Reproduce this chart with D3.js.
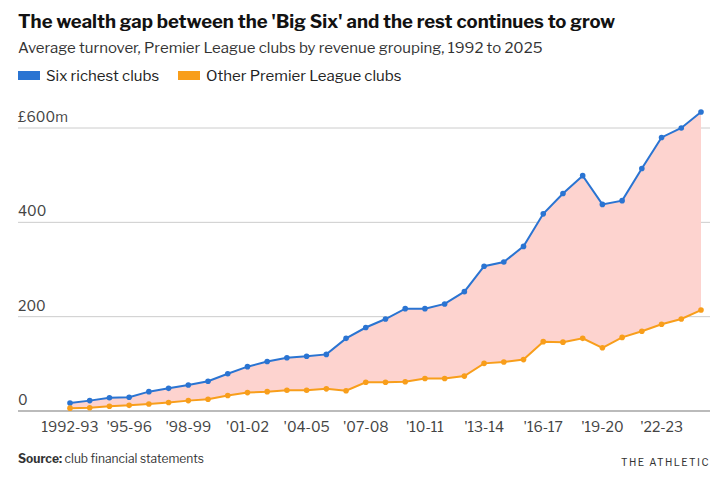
<!DOCTYPE html><html><head><meta charset="utf-8"><script src="https://cdn.jsdelivr.net/npm/d3@7"></script>
<style>body{margin:0;background:#fff;font-family:"Libre Franklin","Noto Sans",sans-serif}</style></head><body><svg id="c" width="720" height="485"></svg>
<script>
const seasons=d3.range(1992,2025).map(y=>y+"-"+String((y+1)%100).padStart(2,"0"));
const tickSeasons=["1992-93","1995-96","1998-99","2001-02","2004-05","2007-08","2010-11","2013-14","2016-17","2019-20","2022-23"];
const bigSix=[17,22,28,29,41,48,55,63,79,94,105,113,116,120,154,177,195,217,217,227,253,307,316,349,418,461,499,438,446,514,580,600,634];
const others=[6,7,10,12,15,18,22,25,33,39,41,44,44,47,43,61,61,62,69,69,74,101,104,109,147,146,154,134,156,169,184,195,214];
const yTicks=[0,200,400,600];
const svg=d3.select("#c");
const x=d3.scalePoint().domain(seasons).range([70,701]);
const y=d3.scaleLinear().domain([0,600]).range([411,128]);
svg.append("text").attr("x",18).attr("y",28).attr("font-size",18.5).attr("font-weight",700).attr("fill","#121212").text("The wealth gap between the 'Big Six' and the rest continues to grow");
svg.append("text").attr("x",18).attr("y",53).attr("font-size",15).attr("fill","#333").text("Average turnover, Premier League clubs by revenue grouping, 1992 to 2025");
const lg=[["Six richest clubs","#2a74d2",18],["Other Premier League clubs","#f89e1b",178]];
lg.forEach(([t,c,lx])=>{svg.append("rect").attr("x",lx).attr("y",71).attr("width",22).attr("height",9).attr("fill",c);
svg.append("text").attr("x",lx+28).attr("y",81).attr("font-size",15).attr("fill","#222").text(t);});
yTicks.forEach(t=>{svg.append("line").attr("x1",18).attr("x2",710).attr("y1",y(t)).attr("y2",y(t)).attr("stroke",t===0?"#bbb":"#ccc").attr("stroke-width",t===0?2:1);
svg.append("text").attr("x",18).attr("y",y(t)-6).attr("font-size",14).attr("fill","#444").text(t===600?"£600m":t);});
const area=d3.area().x((d,i)=>x(seasons[i])).y0((d,i)=>y(others[i])).y1(d=>y(d));
svg.append("path").datum(bigSix).attr("d",area).attr("fill","#fdd3cf");
[[bigSix,"#2a74d2"],[others,"#f89e1b"]].forEach(([arr,c])=>{
svg.append("path").datum(arr).attr("d",d3.line().x((d,i)=>x(seasons[i])).y(d=>y(d))).attr("fill","none").attr("stroke",c).attr("stroke-width",2);
svg.selectAll(null).data(arr).enter().append("circle").attr("cx",(d,i)=>x(seasons[i])).attr("cy",d=>y(d)).attr("r",2.8).attr("fill",c);});
tickSeasons.forEach((s,i)=>svg.append("text").attr("x",x(s)).attr("y",432).attr("text-anchor","middle").attr("font-size",14).attr("fill","#444").text(i===0?s:"'"+s.slice(2)));
svg.append("text").attr("x",18).attr("y",463).attr("font-size",12).attr("fill","#333").html('<tspan font-weight="700">Source:</tspan> club financial statements');
svg.append("text").attr("x",710).attr("y",466).attr("text-anchor","end").attr("font-size",10).attr("letter-spacing",1.5).attr("fill","#333").text("THE ATHLETIC");
</script></body></html>
